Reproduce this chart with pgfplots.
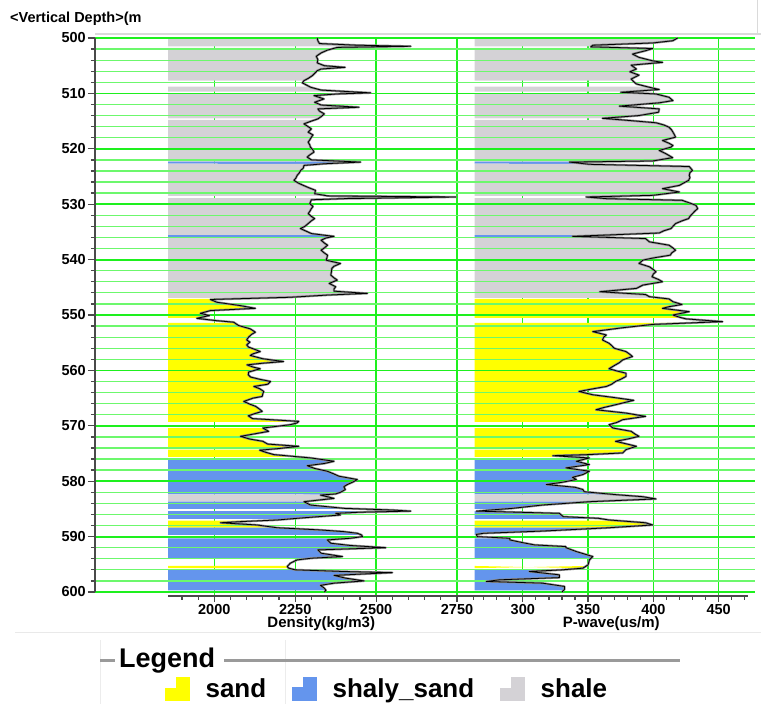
\documentclass[border=0pt]{standalone}
\usepackage{pgfplots}
\pgfplotsset{compat=1.18}
\usepackage{pgfplotstable}
\usepgfplotslibrary{fillbetween}
\usepackage{fontspec}
\setmainfont{Liberation Sans}

\definecolor{gridmajor}{HTML}{1EF01E}
\definecolor{gridminor}{HTML}{6CF86C}
\definecolor{sandcol}{HTML}{FFFF00}
\definecolor{shalysandcol}{HTML}{6495ED}
\definecolor{shalecol}{HTML}{D4D2D6}
\definecolor{axisgray}{HTML}{4A4A4A}
\definecolor{framegray}{HTML}{DADADA}
\definecolor{legendline}{HTML}{9A9A9A}
\definecolor{curveshade}{HTML}{8A8A8A}

% Bulk density log (kg/m3) against vertical depth (m)
\pgfplotstableread{
depth den
500.0 2318
500.5 2320
501.0 2325
501.3 2440
501.5 2607
501.7 2380
502.2 2349
502.7 2330
503.3 2315
503.9 2320
504.5 2318
505.0 2340
505.3 2404
505.6 2330
505.9 2318
506.4 2310
506.8 2303
507.3 2290
507.7 2277
508.1 2272
508.5 2285
508.9 2298
509.4 2330
509.9 2483
510.1 2380
510.4 2308
511.0 2339
511.6 2310
512.1 2330
512.5 2447
512.8 2320
513.2 2325
513.7 2340
514.2 2330
514.6 2320
515.0 2300
515.5 2277
516.0 2290
516.4 2300
517.0 2290
517.5 2305
517.9 2300
518.4 2295
518.8 2290
519.3 2295
519.7 2297
520.2 2305
520.6 2308
521.1 2295
521.5 2287
522.0 2300
522.4 2452
522.7 2340
523.0 2277
523.5 2275
523.9 2267
524.4 2262
524.8 2256
525.3 2252
525.7 2246
526.2 2260
526.6 2275
527.1 2295
527.5 2313
528.1 2310
528.5 2350
528.7 2747
529.0 2400
529.2 2300
529.9 2295
530.4 2305
530.8 2300
531.3 2295
531.7 2290
532.2 2300
532.6 2310
533.0 2300
533.5 2290
534.0 2280
534.4 2266
534.9 2285
535.3 2300
535.6 2340
535.8 2370
536.1 2345
536.5 2330
537.0 2340
537.4 2350
537.9 2340
538.3 2330
538.8 2340
539.2 2350
539.7 2348
540.1 2345
540.7 2390
541.2 2370
541.6 2363
542.2 2362
542.8 2360
543.3 2370
543.7 2380
544.3 2355
544.9 2375
545.3 2370
545.7 2370
546.1 2473
546.4 2350
546.8 2235
547.2 1988
547.7 2008
548.3 2080
548.8 2127
549.2 1988
549.7 1957
550.1 1985
550.6 1946
551.0 2003
551.3 2060
551.9 2075
552.5 2111
553.1 2127
553.5 2115
554.0 2106
554.5 2100
554.9 2110
555.4 2100
555.8 2106
556.2 2125
556.6 2142
557.0 2120
557.3 2111
557.9 2150
558.4 2214
558.7 2150
559.0 2101
559.4 2120
559.7 2142
560.3 2106
560.8 2105
561.2 2112
561.6 2140
562.0 2174
562.5 2165
562.9 2122
563.3 2140
563.8 2153
564.2 2150
564.7 2148
565.0 2120
565.6 2091
566.1 2110
566.5 2128
567.0 2140
567.4 2148
567.8 2125
568.2 2105
568.7 2118
569.2 2261
569.5 2255
569.8 2235
570.4 2150
571.0 2168
571.5 2120
571.9 2081
572.4 2110
572.8 2150
573.3 2165
573.7 2261
574.1 2200
574.4 2140
574.8 2160
575.2 2184
575.8 2298
576.4 2370
576.8 2340
577.2 2287
577.7 2310
578.2 2349
578.7 2370
579.1 2385
579.7 2442
580.1 2430
580.6 2411
581.0 2400
581.5 2405
582.0 2390
582.3 2375
582.5 2328
583.1 2370
583.7 2277
584.3 2297
584.9 2401
585.2 2550
585.4 2607
585.6 2450
585.8 2375
586.1 2390
586.6 2277
587.0 2194
587.3 2080
587.5 2019
587.9 2132
588.4 2194
588.8 2328
589.1 2400
589.4 2442
589.7 2455
590.0 2458
590.3 2420
590.6 2349
591.2 2360
591.6 2420
592.0 2530
592.4 2320
593.0 2330
593.6 2396
593.9 2300
594.2 2256
594.8 2235
595.4 2225
595.7 2230
596.0 2250
596.3 2400
596.5 2550
597.0 2370
597.5 2406
598.0 2463
598.4 2370
598.8 2328
599.3 2340
599.7 2345
600.0 2340
}\densitylog

% Compressional slowness log (us/m) against vertical depth (m)
\pgfplotstableread{
depth pw
500.0 418.6
500.5 414.8
500.9 399.5
501.3 353.6
501.6 352.0
501.9 399.5
502.3 394.0
502.9 384.0
503.5 389.0
504.1 399.0
504.4 407.0
504.9 383.0
505.6 387.0
506.1 382.0
506.7 389.0
507.4 383.0
507.9 385.0
508.3 387.0
508.9 397.0
509.3 404.5
509.8 375.0
510.1 402.0
510.7 412.0
511.3 415.0
511.7 404.5
512.3 374.0
512.8 404.5
513.4 404.0
514.0 389.0
514.5 361.0
514.9 382.0
515.3 402.0
515.7 408.0
516.1 412.0
516.6 414.0
517.0 415.0
517.4 416.0
517.9 417.0
518.5 407.0
519.0 412.0
519.4 415.0
519.7 413.5
520.3 404.5
520.9 409.7
521.6 414.8
522.2 399.5
522.4 335.7
522.8 351.0
523.2 427.5
523.9 430.0
524.3 428.0
524.8 427.5
525.2 428.0
525.7 427.0
526.2 423.0
526.6 420.0
527.2 407.0
527.8 420.0
528.4 399.5
528.7 348.5
529.0 364.0
529.3 422.0
529.8 428.0
530.2 432.6
530.8 434.0
531.2 432.0
531.7 430.0
532.2 428.0
532.6 427.0
533.0 422.0
533.5 417.0
534.0 415.0
534.4 413.5
534.8 408.0
535.2 404.5
535.8 338.0
536.2 394.0
536.8 397.0
537.4 412.0
537.9 415.0
538.3 417.0
538.8 414.0
539.2 413.0
539.7 400.0
540.1 392.0
540.7 389.0
541.3 397.0
541.8 400.0
542.2 402.0
542.6 400.0
543.1 399.0
543.6 404.0
544.0 407.0
544.6 392.0
545.2 387.0
545.8 359.0
546.3 394.0
546.7 397.0
547.1 412.0
547.6 415.0
548.1 422.0
548.5 412.0
548.8 407.0
549.4 427.5
550.0 415.0
550.4 420.0
550.7 425.0
551.2 453.0
551.7 399.5
552.3 376.5
553.0 353.6
553.6 364.0
554.0 362.0
554.5 361.0
555.1 366.0
555.5 368.0
556.0 370.0
556.6 379.0
557.1 382.0
557.5 384.0
558.1 376.5
558.6 374.0
559.0 371.0
559.7 366.0
560.1 372.0
560.5 379.0
561.1 379.0
561.6 375.0
562.0 371.0
562.5 368.0
562.9 364.0
563.4 352.0
563.8 343.0
564.4 353.6
564.9 370.0
565.4 385.0
565.8 378.0
566.2 371.0
566.7 362.0
567.1 356.0
567.7 379.0
568.3 394.0
568.9 376.5
569.4 372.0
569.8 366.0
570.4 369.0
571.0 383.0
571.5 386.0
571.9 389.0
572.4 380.0
572.8 371.0
573.3 380.0
573.7 387.0
574.3 379.0
574.9 376.5
575.2 350.0
575.4 323.0
575.8 351.0
576.4 341.0
577.0 351.0
577.6 333.0
578.2 351.0
578.8 346.0
579.3 338.0
579.7 341.0
580.2 330.0
580.6 318.0
581.1 340.0
581.5 346.0
581.9 347.0
582.4 370.0
582.8 392.0
583.2 402.0
583.7 351.0
584.3 315.0
584.9 292.0
585.2 275.0
585.4 264.5
585.8 328.0
586.4 331.0
586.7 358.0
587.0 366.0
587.5 394.0
587.9 399.5
588.4 366.0
589.0 315.0
589.4 270.0
589.6 264.5
590.0 265.0
590.3 290.0
590.6 290.0
591.1 300.0
591.5 309.0
591.8 333.0
592.0 333.0
592.7 341.0
593.2 348.0
593.6 353.6
594.2 351.0
595.1 350.0
595.7 346.0
596.0 330.0
596.3 305.0
596.9 328.0
597.4 328.0
597.8 282.0
598.1 272.0
598.4 315.0
599.0 332.0
599.5 332.0
600.0 330.0
}\pwavelog

% One lithology band: fill between the curve (#1) and the track base (#2),
% kept to the depth interval #6..#7 across the track width #3..#4
\newcommand\lithfill[7]{%
  \addplot[fill=#5, draw=none] fill between[of=#1 and #2, reverse=false,
    soft clip={(axis cs:#3,#6) rectangle (axis cs:#4,#7)}];}

% Lithology column (top, bottom in m), shared by both tracks
\newcommand\lithology[4]{%
  \lithfill{#1}{#2}{#3}{#4}{shalecol}{500.0}{501.5}
  \lithfill{#1}{#2}{#3}{#4}{shalecol}{501.8}{507.7}
  \lithfill{#1}{#2}{#3}{#4}{shalecol}{508.8}{509.7}
  \lithfill{#1}{#2}{#3}{#4}{shalecol}{510.0}{514.5}
  \lithfill{#1}{#2}{#3}{#4}{shalecol}{514.8}{522.3}
  \lithfill{#1}{#2}{#3}{#4}{shalysandcol}{522.3}{522.7}
  \lithfill{#1}{#2}{#3}{#4}{shalecol}{522.7}{528.5}
  \lithfill{#1}{#2}{#3}{#4}{shalecol}{528.9}{535.6}
  \lithfill{#1}{#2}{#3}{#4}{shalysandcol}{535.6}{536.0}
  \lithfill{#1}{#2}{#3}{#4}{shalecol}{536.0}{546.9}
  \lithfill{#1}{#2}{#3}{#4}{sandcol}{547.1}{550.5}
  \lithfill{#1}{#2}{#3}{#4}{sandcol}{551.4}{569.3}
  \lithfill{#1}{#2}{#3}{#4}{sandcol}{570.4}{573.9}
  \lithfill{#1}{#2}{#3}{#4}{sandcol}{574.3}{575.6}
  \lithfill{#1}{#2}{#3}{#4}{shalysandcol}{575.9}{582.4}
  \lithfill{#1}{#2}{#3}{#4}{shalecol}{582.4}{583.7}
  \lithfill{#1}{#2}{#3}{#4}{shalysandcol}{583.7}{585.0}
  \lithfill{#1}{#2}{#3}{#4}{shalysandcol}{585.4}{586.8}
  \lithfill{#1}{#2}{#3}{#4}{sandcol}{587.1}{588.4}
  \lithfill{#1}{#2}{#3}{#4}{shalysandcol}{588.4}{589.7}
  \lithfill{#1}{#2}{#3}{#4}{shalysandcol}{590.3}{594.0}
  \lithfill{#1}{#2}{#3}{#4}{sandcol}{595.3}{595.7}
  \lithfill{#1}{#2}{#3}{#4}{shalysandcol}{595.9}{599.7}
}

\newcommand\labfont{\bfseries\fontsize{14.5}{15}\selectfont}
\newcommand\titlefont{\bfseries\fontsize{15}{16}\selectfont}

\pgfplotsset{
  track/.style={
    scale only axis, height=558pt,
    ymin=500, ymax=600.72, y dir=reverse,
    axis y line=none, axis x line*=bottom,
    x axis line style={axisgray, line width=2pt},
    xtick style={axisgray, line width=1.2pt},
    major tick length=6pt, minor tick length=4pt, tick align=outside,
    xmajorgrids, major x grid style={gridmajor, line width=1.3pt},
    xticklabel style={font=\labfont, inner sep=2pt},
    xlabel style={font=\titlefont, yshift=3pt},
    /pgf/number format/assume math mode=true,
    /pgf/number format/1000 sep={},
  },
  logcurve/.style={black, line width=0.8pt, line join=round},
  logshade/.style={curveshade, line width=2.2pt, line join=round},
}

\begin{document}
\begin{tikzpicture}

% depth frame with the horizontal grid and the legend
\begin{axis}[
  scale only axis, width=660pt, height=554pt,
  at={(95pt,112pt)}, anchor=south west,
  xmin=0, xmax=1, ymin=500, ymax=600, y dir=reverse,
  axis x line=none, axis y line*=left,
  y axis line style={axisgray, line width=2.2pt},
  ytick={500,510,...,600}, minor ytick={502,504,...,598},
  tick align=outside, major tick length=7pt, minor tick length=4pt,
  ytick style={axisgray, line width=1.3pt},
  ymajorgrids, yminorgrids,
  major grid style={gridmajor, line width=1.8pt},
  minor grid style={gridminor, line width=1.3pt},
  yticklabel style={font=\labfont, inner sep=2pt},
  /pgf/number format/assume math mode=true,
  legend columns=3,
  legend style={at={(axis description cs:0.106,-0.175)}, anchor=west,
    draw=none, fill=none, inner sep=0pt,
    font=\bfseries\fontsize{26}{28}\selectfont,
    /tikz/every odd column/.append style={column sep=14pt},
    /tikz/every even column/.append style={column sep=24pt}},
]
\addlegendimage{legend image code/.code={
  \fill[sandcol] (0pt,-11.5pt) rectangle (24pt,0.5pt);
  \fill[sandcol] (11pt,0pt) rectangle (24pt,11.5pt);}}
\addlegendentry{sand}
\addlegendimage{legend image code/.code={
  \fill[shalysandcol] (0pt,-11.5pt) rectangle (24pt,2pt);
  \fill[shalysandcol] (11pt,0pt) rectangle (24pt,11.5pt);}}
\addlegendentry{shaly\_sand}
\addlegendimage{legend image code/.code={
  \fill[shalecol] (0pt,-11.5pt) rectangle (24pt,0.5pt);
  \fill[shalecol] (11pt,0pt) rectangle (24pt,11.5pt);}}
\addlegendentry{shale}
\end{axis}

% density track
\begin{axis}[track,
  width=306.5pt, at={(168pt,108pt)}, anchor=south west,
  xmin=1857, xmax=2804,
  xtick={2000,2250,2500,2750}, minor xtick={1900,1950,...,2800},
  xlabel={Density(kg/m3)},
]
\addplot[draw=none, name path=denbase] coordinates {(1857,500) (1857,600)};
\addplot[logshade] table[x=den, y=depth] {\densitylog};
\addplot[logcurve, name path=den] table[x=den, y=depth] {\densitylog};
\lithology{den}{denbase}{1800}{2900}
\end{axis}

% P-wave slowness track
\begin{axis}[track,
  width=273.5pt, at={(474.5pt,108pt)}, anchor=south west,
  xmin=263, xmax=472.5,
  xtick={300,350,400,450}, minor xtick={270,280,...,470},
  xlabel={P-wave(us/m)},
]
\addplot[draw=none, name path=pwbase] coordinates {(263,500) (263,600)};
\addplot[logshade] table[x=pw, y=depth] {\pwavelog};
\addplot[logcurve, name path=pw] table[x=pw, y=depth] {\pwavelog};
\lithology{pw}{pwbase}{250}{480}
\end{axis}

% title and frame
\node[anchor=west, inner sep=0pt, font=\bfseries\fontsize{14.5}{16}\selectfont]
  at (10pt,685pt) {<Vertical Depth>(m};
\draw[framegray, line width=1.8pt] (95pt,670pt) -- (761pt,670pt);
\draw[framegray, line width=1pt] (757pt,670pt) -- (757pt,704pt);
\draw[framegray!60, line width=1pt] (15pt,71pt) -- (761pt,71pt);
\draw[framegray!50, line width=1pt] (100pt,0pt) -- (100pt,64pt);
\draw[framegray!50, line width=1pt] (285pt,0pt) -- (285pt,64pt);

% legend heading
\draw[legendline, line width=3pt] (100pt,43pt) -- (115pt,43pt);
\node[anchor=west, inner sep=0pt, font=\bfseries\fontsize{27}{29}\selectfont]
  at (119pt,43pt) {Legend};
\draw[legendline, line width=3pt] (224pt,43pt) -- (680pt,43pt);

\pgfresetboundingbox
\path[use as bounding box] (0,0) rectangle (761pt,704pt);
\end{tikzpicture}
\end{document}
